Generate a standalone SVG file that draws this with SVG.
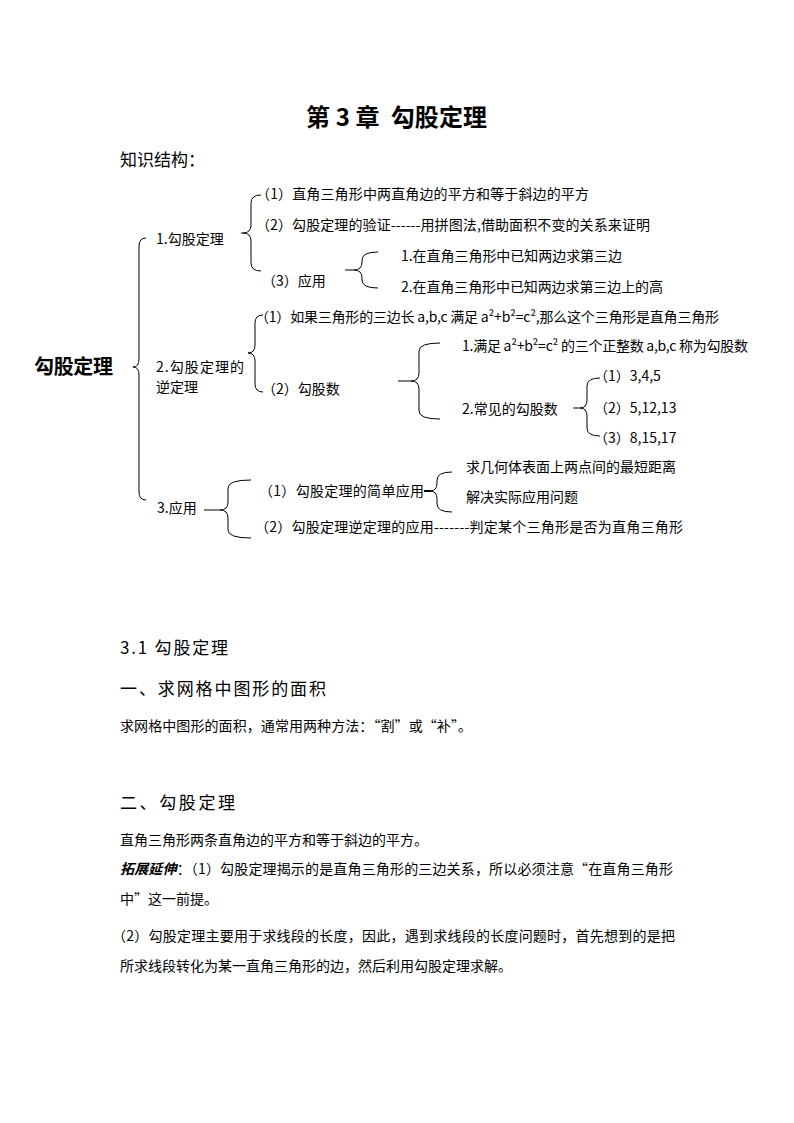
<svg xmlns="http://www.w3.org/2000/svg" width="794" height="1123" viewBox="0 0 794 1123">
<style>
text{font-family:"Noto Sans CJK SC","Noto Sans",sans-serif;fill:#000;}
.t{font-size:14px;}
.h{font-size:17px;}
.title{font-size:24px;font-weight:bold;}
.root{font-size:20px;font-weight:bold;}
.brace{fill:none;stroke:#000;stroke-width:1;}
.em{font-weight:bold;font-style:italic;}
</style>
<rect width="794" height="1123" fill="#fff"/>
<g id="title"><text class="title" x="306" y="126" textLength="181">第&#160;3&#160;章&#160;&#160;勾股定理</text></g>
<text class="h" x="120" y="166">知识结构：</text>

<g id="connectors">
<path class="brace" d="M146,238 Q139,238 139,246 V359 Q139,367 133,367 Q139,367 139,375 V492 Q139,500 146,500"/>
<path class="brace" d="M261,195 Q251,195 251,203 V225 Q251,233 243,233 L241,233 M243,233 Q251,233 251,241 V263 Q251,271 261,271"/>
<path class="brace" d="M378,252 Q362,252 362,260 V262 Q362,270 354,270 L345,270 M354,270 Q362,270 362,278 V280 Q362,288 378,288"/>
<path class="brace" d="M263,315 Q255,315 255,323 V345 Q255,353 248,353 Q255,353 255,361 V384 Q255,392 263,392"/>
<path class="brace" d="M440,343 Q419,343 419,351 V373 Q419,381 411,381 L398,381 M411,381 Q419,381 419,389 V411 Q419,419 440,419"/>
<path class="brace" d="M600,378 Q587,378 587,386 V400 Q587,408 580,408 L573,408 M580,408 Q587,408 587,416 V428 Q587,436 600,436"/>
<path class="brace" d="M251,480 Q228,480 228,488 V502 Q228,510 220,510 L204,510 M220,510 Q228,510 228,518 V530 Q228,538 251,538"/>
<path class="brace" d="M452,472 Q437,472 437,480 V483 Q437,491 430,491 L424,491 M430,491 Q437,491 437,499 V504 Q437,512 452,512"/>
<line x1="424" y1="491" x2="431" y2="491" stroke="#000" stroke-width="2"/>
</g>

<g id="n-root"><text class="root" x="34" y="374" textLength="79">勾股定理</text></g>
<g id="n1"><text class="t" x="156" y="244">1.勾股定理</text></g>
<g id="n1-1"><text class="t" x="256" y="199" textLength="333">（1）直角三角形中两直角边的平方和等于斜边的平方</text></g>
<g id="n1-2"><text class="t" x="256" y="230" textLength="394">（2）勾股定理的验证------用拼图法,借助面积不变的关系来证明</text></g>
<g id="n1-3"><text class="t" x="262" y="286">（3）应用</text></g>
<g id="n1-3-1"><text class="t" x="401" y="261" textLength="221">1.在直角三角形中已知两边求第三边</text></g>
<g id="n1-3-2"><text class="t" x="401" y="292" textLength="262">2.在直角三角形中已知两边求第三边上的高</text></g>
<g id="n2"><text class="t" x="156" y="372" textLength="88">2.勾股定理的</text><text class="t" x="156" y="392">逆定理</text></g>
<g id="n2-1"><text class="t" x="255" y="322" textLength="464">（1）如果三角形的三边长 a,b,c 满足 a²+b²=c²,那么这个三角形是直角三角形</text></g>
<g id="n2-2"><text class="t" x="262" y="394">（2）勾股数</text></g>
<g id="n2-2-1"><text class="t" x="462" y="351" textLength="286">1.满足 a²+b²=c² 的三个正整数 a,b,c 称为勾股数</text></g>
<g id="n2-2-2"><text class="t" x="462" y="414">2.常见的勾股数</text></g>
<g id="n2-2-2-1"><text class="t" x="594" y="381">（1）3,4,5</text></g>
<g id="n2-2-2-2"><text class="t" x="594" y="413">（2）5,12,13</text></g>
<g id="n2-2-2-3"><text class="t" x="594" y="443">（3）8,15,17</text></g>
<g id="n3"><text class="t" x="157" y="513">3.应用</text></g>
<g id="n3-1"><text class="t" x="259" y="496" textLength="165">（1）勾股定理的简单应用</text></g>
<g id="n3-1-1"><text class="t" x="466" y="472">求几何体表面上两点间的最短距离</text></g>
<g id="n3-1-2"><text class="t" x="466" y="502">解决实际应用问题</text></g>
<g id="n3-2"><text class="t" x="255" y="532" textLength="428">（2）勾股定理逆定理的应用-------判定某个三角形是否为直角三角形</text></g>

<g id="body">
<text class="h" x="120" y="654" textLength="108">3.1 勾股定理</text>
<text class="h" x="120" y="695" textLength="206">一、求网格中图形的面积</text>
<text class="t" x="120" y="731" textLength="352">求网格中图形的面积，通常用两种方法：“割”或“补”。</text>
<text class="h" x="120" y="809" textLength="115">二、勾股定理</text>
<text class="t" x="120" y="845">直角三角形两条直角边的平方和等于斜边的平方。</text>
<text class="t" x="120" y="874" textLength="553"><tspan class="em">拓展延伸</tspan>：（1）勾股定理揭示的是直角三角形的三边关系，所以必须注意“在直角三角形</text>
<text class="t" x="120" y="904">中”这一前提。</text>
<text class="t" x="112" y="941" textLength="563">（2）勾股定理主要用于求线段的长度，因此，遇到求线段的长度问题时，首先想到的是把</text>
<text class="t" x="120" y="971">所求线段转化为某一直角三角形的边，然后利用勾股定理求解。</text>
</g>
</svg>
